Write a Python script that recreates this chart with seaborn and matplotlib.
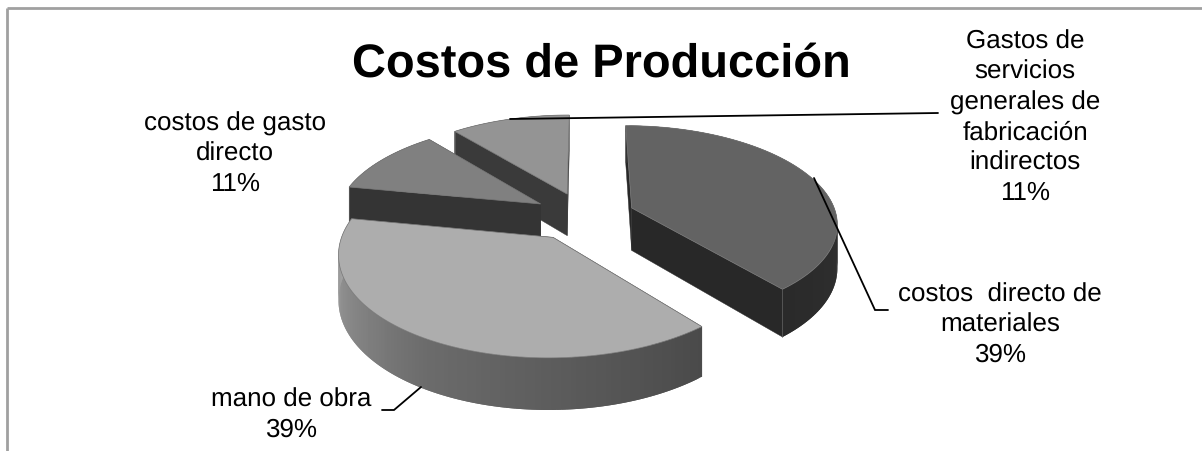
import numpy as np
import matplotlib
matplotlib.use("Agg")
import matplotlib.pyplot as plt
import seaborn as sns

sns.set_theme(style="white")
plt.rcParams["font.family"] = ["Liberation Sans", "DejaVu Sans"]
plt.rcParams["text.hinting"] = "none"
plt.rcParams["text.hinting_factor"] = 1

# Slices clockwise from twelve o'clock
categories = ["costos  directo de\nmateriales",
              "mano de obra",
              "costos de gasto\ndirecto",
              "Gastos de\nservicios\ngenerales de\nfabricación\nindirectos"]
values = [39, 39, 11, 11]
shown_percent = ["39%", "39%", "11%", "11%"]
top_colors = ["#636363", "#adadad", "#808080", "#949494"]
cut_colors = ["#282828", "#4a4a4a", "#343434", "#3a3a3a"]
wall_ramps = [["#343434", "#333333", "#2a2a2a"],
              ["#4a4a4a", "#6c6c6c", "#a9a9a9"],
              ["#555555", "#555555", "#555555"],
              ["#777777", "#777777", "#777777"]]
title = "Costos de Producción"

# Perspective pie geometry, in figure pixels
CX, CY = 584, 216
RX, RY = 205, 96.3
PERSP = 0.144
EXPLODE = 0.25
DEPTH = 43
slice_shift = [0, -4, 0, 0]


def project(px, py, drop=0.0):
    """Map pie-plane coordinates (py toward the viewer) to pixels."""
    f = 1.0 / (1.0 - PERSP * py)
    return CX + RX * px * f, CY + RY * py * f + drop * f


fig = plt.figure(figsize=(12.02, 4.51), dpi=100, facecolor="white")
ax = fig.add_axes([0, 0, 1, 1])
ax.set_xlim(0, 1202)
ax.set_ylim(451, 0)
ax.axis("off")

# Chart-area border: only the top and left edges are in view
ax.plot([7, 1202], [8, 8], color="#a0a0a0", lw=2, solid_capstyle="butt")
ax.plot([7, 7], [8, 451], color="#a0a0a0", lw=2, solid_capstyle="butt")

fractions = np.array(values, dtype=float) / sum(values)
edges = np.concatenate([[0.0], np.cumsum(fractions)]) * 2 * np.pi
slices = [dict(i=i, a=edges[i], b=edges[i + 1]) for i in range(len(values))]


def draw_cut(theta, ox, oy, shift, color):
    pts = [project(ox, oy),
           project(ox + np.sin(theta), oy - np.cos(theta)),
           project(ox + np.sin(theta), oy - np.cos(theta), DEPTH),
           project(ox, oy, DEPTH)]
    xs, ys = zip(*pts)
    ax.fill(np.array(xs) + shift, ys, color=color, lw=0.3, zorder=2)


# Painter's order: rear slices first, the large front slice last
for s in sorted(slices, key=lambda d: -np.cos((d["a"] + d["b"]) / 2)):
    i, a, b = s["i"], s["a"], s["b"]
    mid = (a + b) / 2
    m = np.array([np.sin(mid), -np.cos(mid)])
    ox, oy = EXPLODE * m
    shift = slice_shift[i]
    thetas = np.linspace(a, b, 120)

    # A cut face shows only when the wedge interior lies behind its edge
    front_cuts = []
    for t in (a, b):
        d = np.array([np.sin(t), -np.cos(t)])
        n = m - m.dot(d) * d
        if n[1] < -1e-6:
            front_cuts.append(t)
        else:
            draw_cut(t, ox, oy, shift, cut_colors[i])

    # Outer wall, shaded in overlapping strips so no seams appear
    ramp = sns.blend_palette(wall_ramps[i], len(thetas) - 1)
    for k in range(len(thetas) - 1):
        t0, t1 = thetas[k], thetas[min(k + 2, len(thetas) - 1)]
        seg = np.linspace(t0, t1, 3)
        upper = project(ox + np.sin(seg), oy - np.cos(seg))
        lower = project(ox + np.sin(seg[::-1]), oy - np.cos(seg[::-1]), DEPTH)
        ax.fill(np.r_[upper[0], lower[0]] + shift, np.r_[upper[1], lower[1]],
                color=ramp[k], lw=0, zorder=2)

    for t in front_cuts:
        draw_cut(t, ox, oy, shift, cut_colors[i])
        # Faint highlight down the corner between cut face and wall
        cx, cy = project(ox + np.sin(t), oy - np.cos(t))
        dx, dy = project(ox + np.sin(t), oy - np.cos(t), DEPTH)
        ax.plot([cx + shift, dx + shift], [cy, dy], color="#606060", lw=0.5, zorder=2)

    # Top surface
    xs, ys = project(ox + np.sin(thetas), oy - np.cos(thetas))
    ax0, ay0 = project(ox, oy)
    ax.fill(np.r_[ax0, xs] + shift, np.r_[ay0, ys], facecolor=top_colors[i],
            edgecolor="#777777", lw=0.5, zorder=2)

# Leader lines
leaders = [([510, 938], [119, 113]),
           ([814, 875, 888], [178, 310, 310]),
           ([421, 394, 382], [387, 410, 410])]
for lx, ly in leaders:
    ax.plot(lx, ly, color="black", lw=1.3, zorder=5, solid_joinstyle="miter")

# Text
label_pos = [(1000, 362), (291, 437), (235, 191), (1025, 200)]
for cat, pct, (x, y) in zip(categories, shown_percent, label_pos):
    ax.text(x, y, f"{cat}\n{pct}", ha="center", va="baseline", ma="center",
            fontsize=19, color="black", linespacing=1.32, zorder=6)

ax.text(601, 77, title, ha="center", va="baseline", fontsize=33.8,
        fontweight="bold", color="black", zorder=6)

fig.savefig("out.png", dpi=100, facecolor="white")
